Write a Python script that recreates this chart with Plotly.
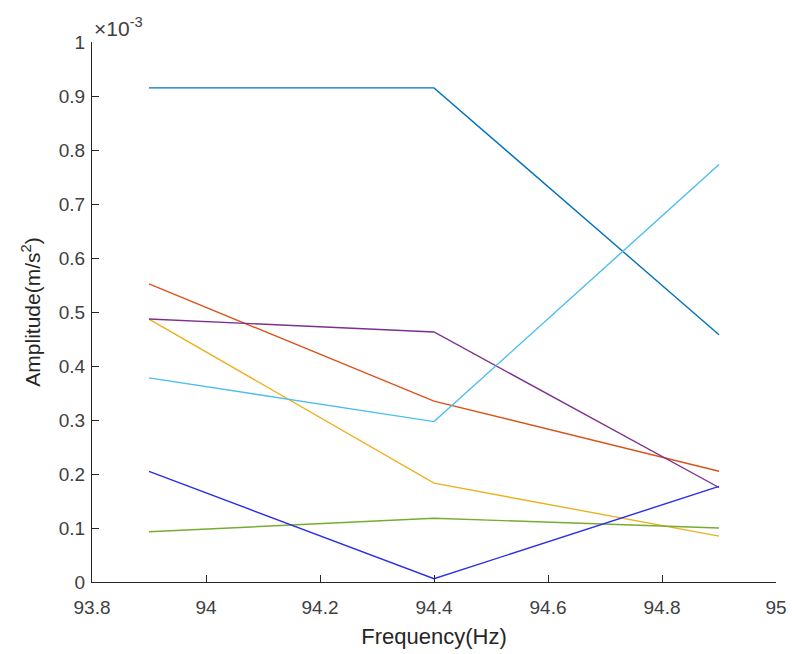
import plotly.graph_objects as go

# Frequencies (Hz)
freq = [93.9, 94.4, 94.9]

# Amplitudes in units of 1e-3 m/s^2
s1 = [0.915, 0.915, 0.458]
s2 = [0.552, 0.335, 0.205]
s3 = [0.487, 0.183, 0.085]
s4 = [0.487, 0.463, 0.175]
s5 = [0.093, 0.118, 0.100]
s6 = [0.378, 0.297, 0.773]
s7 = [0.205, 0.006, 0.177]

series = [s1, s2, s3, s4, s5, s6, s7]
colors = ["#0072BD", "#D95319", "#EDB120", "#7E2F8E", "#77AC30", "#4DBEEE", "#2B2BEA"]

xticks = [93.8, 94.0, 94.2, 94.4, 94.6, 94.8, 95.0]
xticktext = ["93.8", "94", "94.2", "94.4", "94.6", "94.8", "95"]
yticks = [0, 0.1, 0.2, 0.3, 0.4, 0.5, 0.6, 0.7, 0.8, 0.9, 1.0]
yticktext = ["0", "0.1", "0.2", "0.3", "0.4", "0.5", "0.6", "0.7", "0.8", "0.9", "1"]

fig = go.Figure()
for s, c in zip(series, colors):
    fig.add_trace(go.Scatter(x=freq, y=s, mode="lines",
                             line=dict(color=c, width=1.4), showlegend=False))

font_fam = "Liberation Sans, Arial, sans-serif"
ax_col = "#262626"
fig.update_layout(
    width=792, height=654,
    margin=dict(l=92, r=16, t=42, b=72, autoexpand=False),
    paper_bgcolor="white", plot_bgcolor="white",
    font=dict(family=font_fam, size=19, color=ax_col),
    xaxis=dict(range=[93.8, 95.0], tickvals=xticks, ticktext=xticktext,
               ticks="inside", ticklen=7, tickcolor=ax_col, tickwidth=1,
               showline=True, linecolor=ax_col, linewidth=1, automargin=False,
               showgrid=False, zeroline=False, ticklabelstandoff=8,
               title=dict(text="Frequency(Hz)", font=dict(size=22), standoff=11),
               tickfont=dict(size=19, color="#404040")),
    yaxis=dict(range=[0, 1.0], tickvals=yticks, ticktext=yticktext,
               ticks="inside", ticklen=7, tickcolor=ax_col, tickwidth=1,
               showline=True, linecolor=ax_col, linewidth=1, automargin=False,
               showgrid=False, zeroline=False, ticklabelstandoff=2,
               title=dict(text="Amplitude(m/s<sup>2</sup>)", font=dict(size=21), standoff=12),
               tickfont=dict(size=19, color="#404040")),
)
fig.add_annotation(x=0, y=1, xref="paper", yref="paper", xanchor="left", yanchor="bottom",
                   text="×10<sup>-3</sup>", showarrow=False, xshift=0, yshift=0,
                   font=dict(size=21, color="#404040"))

fig.write_html("out.html", config={"displayModeBar": False},
               post_script="document.body.style.margin='0';document.body.style.overflow='hidden';")
